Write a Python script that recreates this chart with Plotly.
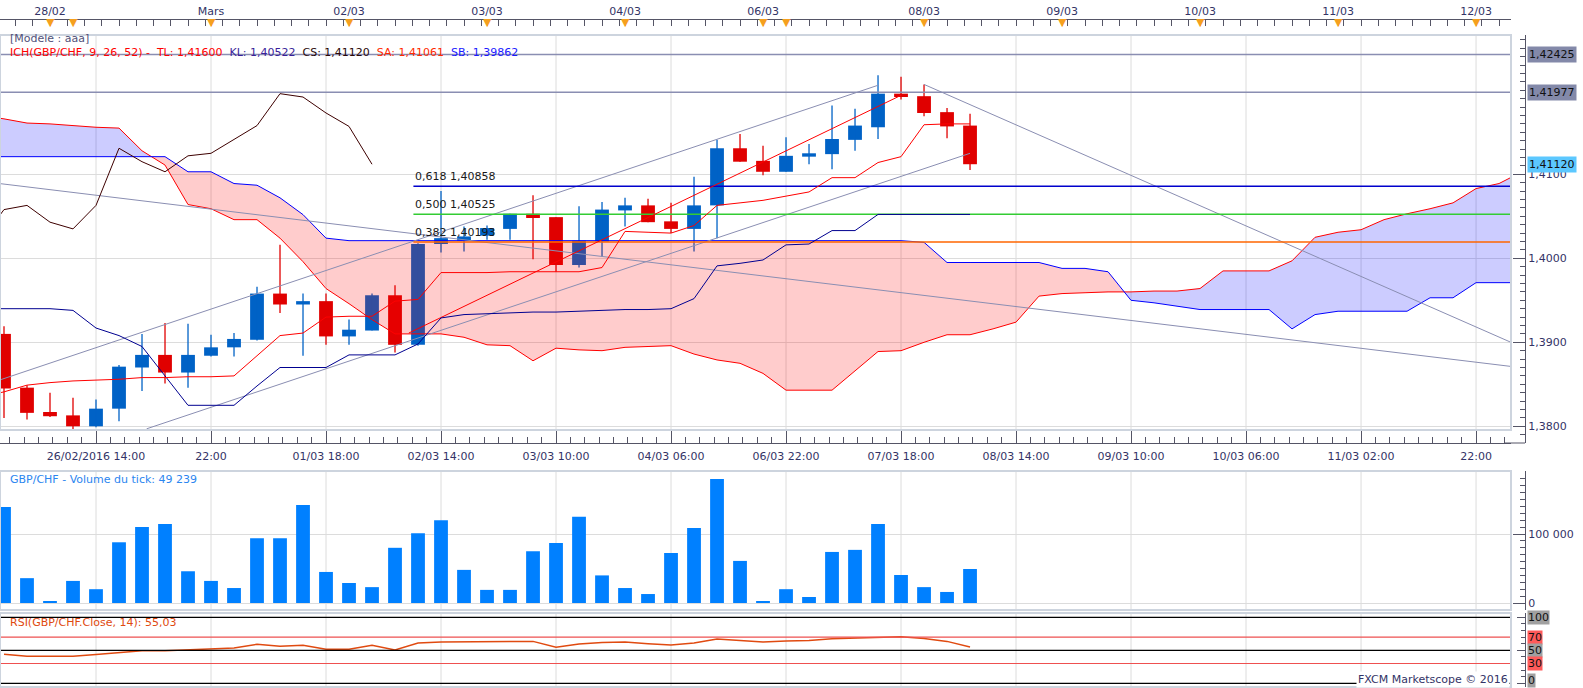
import plotly.graph_objects as go

W, H = 1583, 688
FONT = "DejaVu Sans"

# ---- GBP/CHF 4h bars, x = bar index (0 = first bar on screen, 42 = last one) ----
opens = [1.3910, 1.3846, 1.3817, 1.3813, 1.3800, 1.3821, 1.3870, 1.3885, 1.3864, 1.3884,
         1.3894, 1.3903, 1.3958, 1.3945, 1.3949, 1.3907, 1.3914, 1.3956, 1.3897, 1.4017,
         1.4021, 1.4027, 1.4035, 1.4053, 1.4049, 1.3992, 1.4020, 1.4057, 1.4063, 1.4044,
         1.4035, 1.4063, 1.4131, 1.4116, 1.4103, 1.4121, 1.4124, 1.4141, 1.4156, 1.4196,
         1.4193, 1.4174, 1.4158]
highs = [1.3919, 1.3849, 1.3840, 1.3834, 1.3832, 1.3873, 1.3910, 1.3923, 1.3922, 1.3909,
         1.3911, 1.3966, 1.4016, 1.3958, 1.3958, 1.3927, 1.3958, 1.3968, 1.4018, 1.4080,
         1.4038, 1.4039, 1.4053, 1.4075, 1.4049, 1.4062, 1.4067, 1.4072, 1.4071, 1.4066,
         1.4097, 1.4141, 1.4148, 1.4134, 1.4144, 1.4136, 1.4182, 1.4178, 1.4218, 1.4216,
         1.4207, 1.4179, 1.4172]
lows = [1.3810, 1.3808, 1.3811, 1.3796, 1.3799, 1.3806, 1.3842, 1.3851, 1.3846, 1.3883,
        1.3883, 1.3902, 1.3935, 1.3884, 1.3897, 1.3897, 1.3914, 1.3888, 1.3896, 1.4007,
        1.4008, 1.4022, 1.4022, 1.3999, 1.3984, 1.3989, 1.4002, 1.4038, 1.4043, 1.4030,
        1.4008, 1.4024, 1.4115, 1.4099, 1.4103, 1.4112, 1.4106, 1.4128, 1.4142, 1.4189,
        1.4169, 1.4143, 1.4105]
closes = [1.3845, 1.3816, 1.3812, 1.3800, 1.3821, 1.3871, 1.3885, 1.3864, 1.3885, 1.3894,
          1.3904, 1.3958, 1.3945, 1.3949, 1.3907, 1.3915, 1.3956, 1.3897, 1.4017, 1.4024,
          1.4026, 1.4036, 1.4053, 1.4048, 1.3992, 1.4021, 1.4058, 1.4063, 1.4043, 1.4035,
          1.4063, 1.4131, 1.4115, 1.4103, 1.4122, 1.4125, 1.4142, 1.4158, 1.4196, 1.4192,
          1.4173, 1.4157, 1.4112]

volumes = [139000, 36000, 1500, 32000, 20000, 88000, 110000, 114500, 46000, 32000,
           21700, 94000, 94000, 142000, 45000, 29000, 23000, 80000, 101000, 120000,
           48000, 19000, 19000, 75000, 87000, 125000, 40000, 21700, 13000, 72500,
           108700, 179700, 61000, 1500, 20000, 8700, 74000, 77000, 114500, 40600,
           23000, 16000, 49239]

rsi = [44, 41, 41, 41, 43.5, 47, 49.5, 49.5, 51, 52,
       53.5, 59, 56, 57.5, 51.5, 51.5, 57.5, 50.5, 61, 62.5,
       62.5, 62.5, 63.5, 63.5, 54.5, 59.5, 62, 62.5, 60, 58,
       61, 67, 65, 62.5, 64, 65, 67.5, 68.5, 70.5, 70.5,
       68, 63.5, 55.03]

# ichimoku lines, first value sits one bar left of the screen
ichi_start = -1
tenkan = [1.3835,
          1.3841, 1.3849, 1.3852, 1.3854, 1.3855, 1.3856, 1.3858, 1.3858, 1.3859, 1.3859,
          1.3860, 1.3884, 1.3908, 1.3911, 1.3930, 1.3931, 1.3931, 1.3949, 1.3951, 1.3983,
          1.3983, 1.3983, 1.3984, 1.3984, 1.3984, 1.3984, 1.3989, 1.4032, 1.4031, 1.4030,
          1.4039, 1.4063, 1.4066, 1.4069, 1.4074, 1.4079, 1.4096, 1.4096, 1.4114, 1.4121,
          1.4159, 1.4160, 1.4160]
kijun = [1.3940,
         1.3940, 1.3940, 1.3940, 1.3938, 1.3917, 1.3908, 1.3895, 1.3860, 1.3825, 1.3825,
         1.3825, 1.3848, 1.3870, 1.3870, 1.3870, 1.3885, 1.3885, 1.3885, 1.3898, 1.3929,
         1.3933, 1.3934, 1.3935, 1.3936, 1.3936, 1.3937, 1.3938, 1.3939, 1.3939, 1.3940,
         1.3952, 1.3991, 1.3994, 1.3998, 1.4016, 1.4017, 1.4033, 1.4033, 1.40522, 1.40522,
         1.40522, 1.40522, 1.40522]
# senkou spans, already shifted 26 bars ahead (bar -1 .. 66)
senkou_a = [1.4170,
            1.4166, 1.4161, 1.4160, 1.4158, 1.4156, 1.4155, 1.4128, 1.4111, 1.4064, 1.4059,
            1.4046, 1.4046, 1.4024, 1.3996, 1.3964, 1.3946, 1.3927, 1.3910, 1.3910, 1.3910,
            1.3906, 1.3897, 1.3896, 1.3878, 1.3893, 1.3891, 1.3890, 1.3894, 1.3895, 1.3896,
            1.3886, 1.3879, 1.3875, 1.3863, 1.3843, 1.3843, 1.3843, 1.3866, 1.3889, 1.3890,
            1.3900, 1.3909, 1.3909, 1.3916, 1.3924, 1.3955, 1.3958, 1.3959, 1.3960, 1.3960,
            1.3961, 1.3961, 1.3964, 1.3985, 1.3985, 1.3985, 1.3997, 1.4025, 1.4031, 1.4034,
            1.4046, 1.4053, 1.4059, 1.4066, 1.4083, 1.4089, 1.4103]
senkou_b = [1.4121,
            1.4121, 1.4121, 1.4121, 1.4121, 1.4121, 1.4121, 1.4121, 1.4121, 1.4103, 1.4103,
            1.4089, 1.4087, 1.4072, 1.4052, 1.4024, 1.4021, 1.4021, 1.4021, 1.4021, 1.4021,
            1.4021, 1.4021, 1.4021, 1.4021, 1.4021, 1.4021, 1.4021, 1.4021, 1.4021, 1.4021,
            1.4021, 1.4021, 1.4021, 1.4021, 1.4021, 1.4021, 1.4021, 1.4021, 1.4021, 1.4021,
            1.4019, 1.3995, 1.3995, 1.3995, 1.3995, 1.3995, 1.3988, 1.3988, 1.3984, 1.3950,
            1.3947, 1.3943, 1.3939, 1.3939, 1.3939, 1.3939, 1.3916, 1.3933, 1.3937, 1.3937,
            1.3937, 1.3937, 1.3953, 1.3953, 1.3971, 1.3971, 1.3971]

# drawn objects (bar index, price)
channel_top_k, channel_top_p = [-0.2, 38.0], [1.3855, 1.4206]
channel_bot_k, channel_bot_p = [6.2, 42.0], [1.3797, 1.4125]
long_down_k, long_down_p = [-0.2, 65.6], [1.4089, 1.3871]
top_down_k, top_down_p = [40.0, 65.6], [1.4207, 1.3899]
fib_diag_k, fib_diag_p = [17.6, 39.0], [1.3911, 1.4194]
fib_start = 17.8
fib_ratios = ["0,618", "0,500", "0,382"]
fib_prices = [1.40858, 1.40525, 1.40193]
price_lines = [1.42425, 1.41977]

bottom_k = [4, 9, 14, 19, 24, 29, 34, 39, 44, 49, 54, 59, 64]
bottom_labels = ["26/02/2016 14:00", "22:00", "01/03 18:00", "02/03 14:00", "03/03 10:00",
                 "04/03 06:00", "06/03 22:00", "07/03 18:00", "08/03 14:00", "09/03 10:00",
                 "10/03 06:00", "11/03 02:00", "22:00"]
day_k = [2, 9, 15, 21, 27, 33, 40, 46, 52, 58, 64]
day_labels = ["28/02", "Mars", "02/03", "03/03", "04/03", "06/03", "08/03", "09/03",
              "10/03", "11/03", "12/03"]
day_marks = [2, 3, 9, 15, 21, 27, 33, 34, 40, 46, 52, 58, 64]

rsi_levels = [100, 70, 50, 30, 0]


def ry(px):
    return 1 - px / H


def rx(px):
    return px / W


BLUE = "#0062c6"
RED = "#e00000"
GRID = "#dcdcdc"
AXC = "#555566"
XEND = 65.6

fig = go.Figure()

# vertical grid in the three panels
for k in bottom_k:
    for top, bot in [(35, 430), (471, 610), (613, 687)]:
        fig.add_shape(type="line", xref="x", yref="paper", x0=k, x1=k, y0=ry(bot), y1=ry(top),
                      line=dict(color=GRID, width=1), layer="below")

# candles
n = len(closes)
up = [i for i in range(n) if closes[i] >= opens[i]]
dn = [i for i in range(n) if closes[i] < opens[i]]
for idx, c in [(up, BLUE), (dn, RED)]:
    wx, wy = [], []
    for i in idx:
        wx += [i, i, None]
        wy += [lows[i], highs[i], None]
    fig.add_scatter(x=wx, y=wy, mode="lines", line=dict(color=c, width=1.3), hoverinfo="skip")
    fig.add_bar(x=idx, y=[closes[i] - opens[i] for i in idx], base=[opens[i] for i in idx],
                width=0.6, marker=dict(color=c, line=dict(width=0)))

# kumo: pink where span A < span B, lavender otherwise
ck = list(range(ichi_start, ichi_start + len(senkou_a)))
parts = []
cx, ca, cb = [ck[0]], [senkou_a[0]], [senkou_b[0]]
bull = senkou_a[0] >= senkou_b[0]
for i in range(1, len(ck)):
    s = senkou_a[i] >= senkou_b[i]
    if s != bull:
        d0 = senkou_a[i - 1] - senkou_b[i - 1]
        d1 = senkou_a[i] - senkou_b[i]
        t = d0 / (d0 - d1)
        xc = ck[i - 1] + t
        yc = senkou_a[i - 1] + t * (senkou_a[i] - senkou_a[i - 1])
        cx.append(xc); ca.append(yc); cb.append(yc)
        parts.append((bull, cx, ca, cb))
        cx, ca, cb = [xc], [yc], [yc]
        bull = s
    cx.append(ck[i]); ca.append(senkou_a[i]); cb.append(senkou_b[i])
parts.append((bull, cx, ca, cb))
for b, px_, pa, pb in parts:
    fig.add_scatter(x=px_ + px_[::-1], y=pa + pb[::-1], fill="toself", mode="lines",
                    line=dict(width=0),
                    fillcolor="rgba(0,0,255,0.2)" if b else "rgba(255,0,0,0.2)",
                    hoverinfo="skip")

fig.add_scatter(x=ck, y=senkou_a, mode="lines", line=dict(color="#ff0000", width=1))
fig.add_scatter(x=ck, y=senkou_b, mode="lines", line=dict(color="#0000ff", width=1))

# horizontal price lines and drawn trend lines
for p in price_lines:
    fig.add_scatter(x=[-0.2, XEND], y=[p, p], mode="lines", line=dict(color="#8a8eb2", width=1.5))
for kk, pp in [(channel_top_k, channel_top_p), (channel_bot_k, channel_bot_p),
               (long_down_k, long_down_p), (top_down_k, top_down_p)]:
    fig.add_scatter(x=kk, y=pp, mode="lines", line=dict(color="#8a8eb2", width=1))

fib_colors = ["#0000cc", "#33cc33", "#ff6600"]
for p, c in zip(fib_prices, fib_colors):
    fig.add_scatter(x=[fib_start, XEND], y=[p, p], mode="lines", line=dict(color=c, width=1.5))
fig.add_scatter(x=fib_diag_k, y=fib_diag_p, mode="lines", line=dict(color="#ff0000", width=1))

ik = list(range(ichi_start, ichi_start + len(kijun)))
fig.add_scatter(x=ik, y=kijun, mode="lines", line=dict(color="#000090", width=1))
fig.add_scatter(x=ik, y=tenkan, mode="lines", line=dict(color="#ff0000", width=1))
fig.add_scatter(x=[i - 26 for i in range(25, n)], y=closes[25:], mode="lines",
                line=dict(color="#3d0000", width=1))

# volume
ks = list(range(n))
fig.add_bar(x=ks, y=volumes, width=0.6, marker=dict(color="#0080ff", line=dict(width=0)),
            xaxis="x", yaxis="y2")

# rsi
fig.add_scatter(x=ks, y=rsi, mode="lines", line=dict(color="#e04a10", width=1.5),
                xaxis="x", yaxis="y3")
for lv in rsi_levels:
    fig.add_shape(type="line", xref="paper", yref="y3", x0=0, x1=rx(1511), y0=lv, y1=lv,
                  line=dict(color="#ee5050" if lv in (30, 70) else "#000000", width=1.2))

# panel frames
for top, bot in [(35, 430), (471, 610), (613, 687)]:
    fig.add_shape(type="rect", xref="paper", yref="paper", x0=0, x1=rx(1511),
                  y0=ry(bot), y1=ry(top), line=dict(color="#cdd4de", width=2))
# bottom date axis line runs on to the price scale
fig.add_shape(type="line", xref="paper", yref="paper", x0=rx(1505), x1=rx(1525),
              y0=ry(443), y1=ry(443), line=dict(color=AXC, width=1))

ann = []
ann.append(dict(x=rx(8), y=ry(39), xref="paper", yref="paper", xanchor="left", yanchor="middle",
                text="[Modele : aaa]", showarrow=False, font=dict(color="#505078", size=11)))
sp = "\u00a0\u00a0"
ich = ("<span style='color:#ff0000'>ICH(GBP/CHF, 9, 26, 52) -\u00a0 TL: 1,41600</span>" + sp +
       "<span style='color:#3a1f9a'>KL: 1,40522</span>" + sp +
       "<span style='color:#2a0808'>CS: 1,41120</span>" + sp +
       "<span style='color:#ff2a00'>SA: 1,41061</span>" + sp +
       "<span style='color:#1a1aff'>SB: 1,39862</span>")
ann.append(dict(x=rx(8), y=ry(52), xref="paper", yref="paper", xanchor="left", yanchor="middle",
                text=ich, showarrow=False, font=dict(size=11)))
for r, p in zip(fib_ratios, fib_prices):
    ann.append(dict(x=fib_start, y=p, xref="x", yref="y", xanchor="left", yanchor="bottom",
                    yshift=1, text=r + " " + f"{p:.5f}".replace(".", ","), showarrow=False,
                    font=dict(color="#1a1a1a", size=11)))
# right side value boxes
for p, bg in [(price_lines[0], "#8389a9"), (price_lines[1], "#8389a9"), (closes[-1], "#5cc8ff")]:
    ann.append(dict(x=rx(1527), y=p, xref="paper", yref="y", xanchor="left", yanchor="middle",
                    text=f"{p:.5f}".replace(".", ","), showarrow=False, bgcolor=bg, borderpad=1,
                    font=dict(color="#111111", size=11)))
for lv in rsi_levels:
    ann.append(dict(x=rx(1527), y=lv, xref="paper", yref="y3", xanchor="left", yanchor="middle",
                    yshift=3 if lv == 0 else 0,
                    text=str(lv), showarrow=False, borderpad=0,
                    bgcolor="#ff5a5a" if lv in (30, 70) else "#a0a0a0",
                    font=dict(color="#111111", size=11)))
for k in day_marks:
    ann.append(dict(x=k, y=ry(22), xref="x", yref="paper", xanchor="center", yanchor="middle",
                    text="\u25bc", showarrow=False, font=dict(color="#f5a01e", size=11)))
ann.append(dict(x=rx(8), y=ry(479), xref="paper", yref="paper", xanchor="left", yanchor="middle",
                text="GBP/CHF - Volume du tick: " + f"{volumes[-1]:,}".replace(",", " "),
                showarrow=False, font=dict(color="#2b86f0", size=11)))
ann.append(dict(x=rx(8), y=ry(622), xref="paper", yref="paper", xanchor="left", yanchor="middle",
                text="RSI(GBP/CHF.Close, 14): " + f"{rsi[-1]:.2f}".replace(".", ","),
                showarrow=False, font=dict(color="#e04a10", size=11)))
ann.append(dict(x=rx(1510), y=ry(679), xref="paper", yref="paper", xanchor="right", yanchor="middle",
                text="FXCM Marketscope © 2016", showarrow=False, bgcolor="white",
                font=dict(color="#333366", size=11)))

fig.update_layout(
    width=W, height=H, margin=dict(l=0, r=0, t=0, b=0),
    paper_bgcolor="white", plot_bgcolor="white", showlegend=False,
    barmode="overlay", separators=", ",
    font=dict(family=FONT, size=11, color="#333366"),
    annotations=ann,
    xaxis=dict(domain=[0, rx(1511)], range=[-0.174, 65.52], anchor="y",
               tickmode="array", tickvals=bottom_k, ticktext=bottom_labels,
               ticks="inside", ticklen=13, tickcolor=AXC, showgrid=False, zeroline=False,
               showline=True, linecolor=AXC, ticklabelstandoff=3,
               minor=dict(tick0=4, dtick=0.625, ticks="inside", ticklen=6, tickcolor=AXC,
                          showgrid=False)),
    xaxis2=dict(overlaying="x", anchor="free", position=ry(19), side="top",
                domain=[0, rx(1511)], range=[-0.174, 65.52],
                tickmode="array", tickvals=day_k, ticktext=day_labels,
                ticks="inside", ticklen=6, tickcolor=AXC, showgrid=False, zeroline=False,
                showline=True, linecolor=AXC,
                minor=dict(tick0=2, dtick=0.75, ticks="inside", ticklen=6, tickcolor=AXC,
                           showgrid=False)),
    yaxis=dict(domain=[ry(443), ry(35)], range=[1.378012, 1.426583], side="right",
               anchor="free", position=rx(1525), tickmode="array",
               tickvals=[1.38, 1.39, 1.40, 1.41], tickformat=".4f",
               ticks="inside", ticklen=12, tickcolor=AXC, showline=True, linecolor=AXC,
               showgrid=True, gridcolor=GRID, zeroline=False,
               minor=dict(dtick=0.001, tick0=1.38, ticks="inside", ticklen=5, tickcolor=AXC,
                          showgrid=False)),
    yaxis2=dict(domain=[ry(610), ry(471)], range=[-10145, 191304], side="right",
                anchor="free", position=rx(1525), tickmode="array", tickvals=[0, 100000],
                tickformat=",d", ticks="inside", ticklen=12, tickcolor=AXC,
                showline=True, linecolor=AXC, showgrid=True, gridcolor=GRID, zeroline=False,
                minor=dict(dtick=10000, tick0=0, ticks="inside", ticklen=5, tickcolor=AXC,
                           showgrid=False)),
    yaxis3=dict(domain=[ry(687), ry(613)], range=[-5.6, 106.5], side="right",
                anchor="free", position=rx(1525), tickmode="array", tickvals=[0, 50, 100],
                showticklabels=False, ticks="inside", ticklen=8, tickcolor=AXC,
                showline=True, linecolor=AXC, showgrid=False, zeroline=False,
                minor=dict(dtick=10, tick0=0, ticks="inside", ticklen=4, tickcolor=AXC,
                           showgrid=False)),
)

# a hidden trace so the top date axis is drawn
fig.add_scatter(x=[day_k[0]], y=[closes[0]], xaxis="x2", yaxis="y", mode="markers",
                marker=dict(opacity=0), hoverinfo="skip")

fig.write_html("out.html", config={"displayModeBar": False},
               post_script="document.body.style.margin='0';")
